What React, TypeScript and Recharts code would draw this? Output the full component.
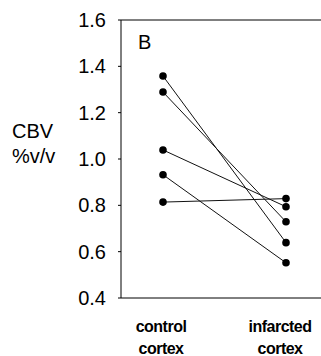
import { LineChart, Line, XAxis, YAxis, ReferenceLine, Label } from 'recharts'

const categories = ['control cortex', 'infarcted cortex']
const controlCBV = [1.358, 1.289, 1.039, 0.932, 0.814]
const infarctedCBV = [0.639, 0.729, 0.794, 0.552, 0.829]
const yTicks = [0.4, 0.6, 0.8, 1.0, 1.2, 1.4, 1.6]

const font = '"Liberation Sans", Arial, Helvetica, sans-serif'

const data = categories.map((cat, i) => {
  const row: Record<string, string | number> = { cat }
  controlCBV.forEach((v, k) => {
    row['s' + k] = i === 0 ? v : infarctedCBV[k]
  })
  return row
})

function CategoryTick({ x, y, payload, index }: any) {
  const [l1, l2] = String(payload.value).split(' ')
  const cx = x + (index === 0 ? -2 : -6)
  return (
    <text
      x={cx}
      y={y}
      textAnchor="middle"
      fontFamily={font}
      fontWeight="bold"
      fontSize={16}
      letterSpacing={-0.5}
      fill="#000"
    >
      <tspan x={cx} dy={34}>{l1}</tspan>
      <tspan x={cx} dy={21.5}>{l2}</tspan>
    </text>
  )
}

function Notes() {
  return (
    <g fontFamily={font} fill="#000">
      <text x={138} y={49} fontSize={20}>B</text>
      <text x={12} y={138} fontSize={20}>CBV</text>
      <text x={12} y={163} fontSize={20}>%v/v</text>
    </g>
  )
}

export default function App() {
  return (
    <div style={{ position: 'absolute', left: 0, top: 0, background: '#fff' }}>
      <LineChart
        width={321}
        height={356}
        data={data}
        margin={{ top: 20, right: 0, bottom: 0, left: 0 }}
      >
        <XAxis
          dataKey="cat"
          height={58}
          padding={{ left: 42, right: 35 }}
          axisLine={{ stroke: '#000', strokeWidth: 1 }}
          tickLine={false}
          tickSize={0}
          tickMargin={0}
          interval={0}
          tick={<CategoryTick />}
        />
        <YAxis
          width={121}
          domain={[0.4, 1.6]}
          ticks={yTicks}
          tickFormatter={(v: number) => v.toFixed(1)}
          axisLine={{ stroke: '#000', strokeWidth: 1 }}
          tickLine={{ stroke: '#000', strokeWidth: 1 }}
          tickSize={3}
          tickMargin={12}
          tick={{ fontSize: 20, fill: '#000', fontFamily: font }}
        >
          <Label content={<Notes />} />
        </YAxis>
        <ReferenceLine y={1.6} stroke="#000" strokeWidth={1} />
        {controlCBV.map((_, k) => (
          <Line
            key={k}
            dataKey={'s' + k}
            type="linear"
            stroke="#111"
            strokeWidth={1}
            dot={{ r: 3.8, fill: '#000', stroke: '#000', strokeWidth: 0 }}
            isAnimationActive={false}
          />
        ))}
      </LineChart>
    </div>
  )
}
